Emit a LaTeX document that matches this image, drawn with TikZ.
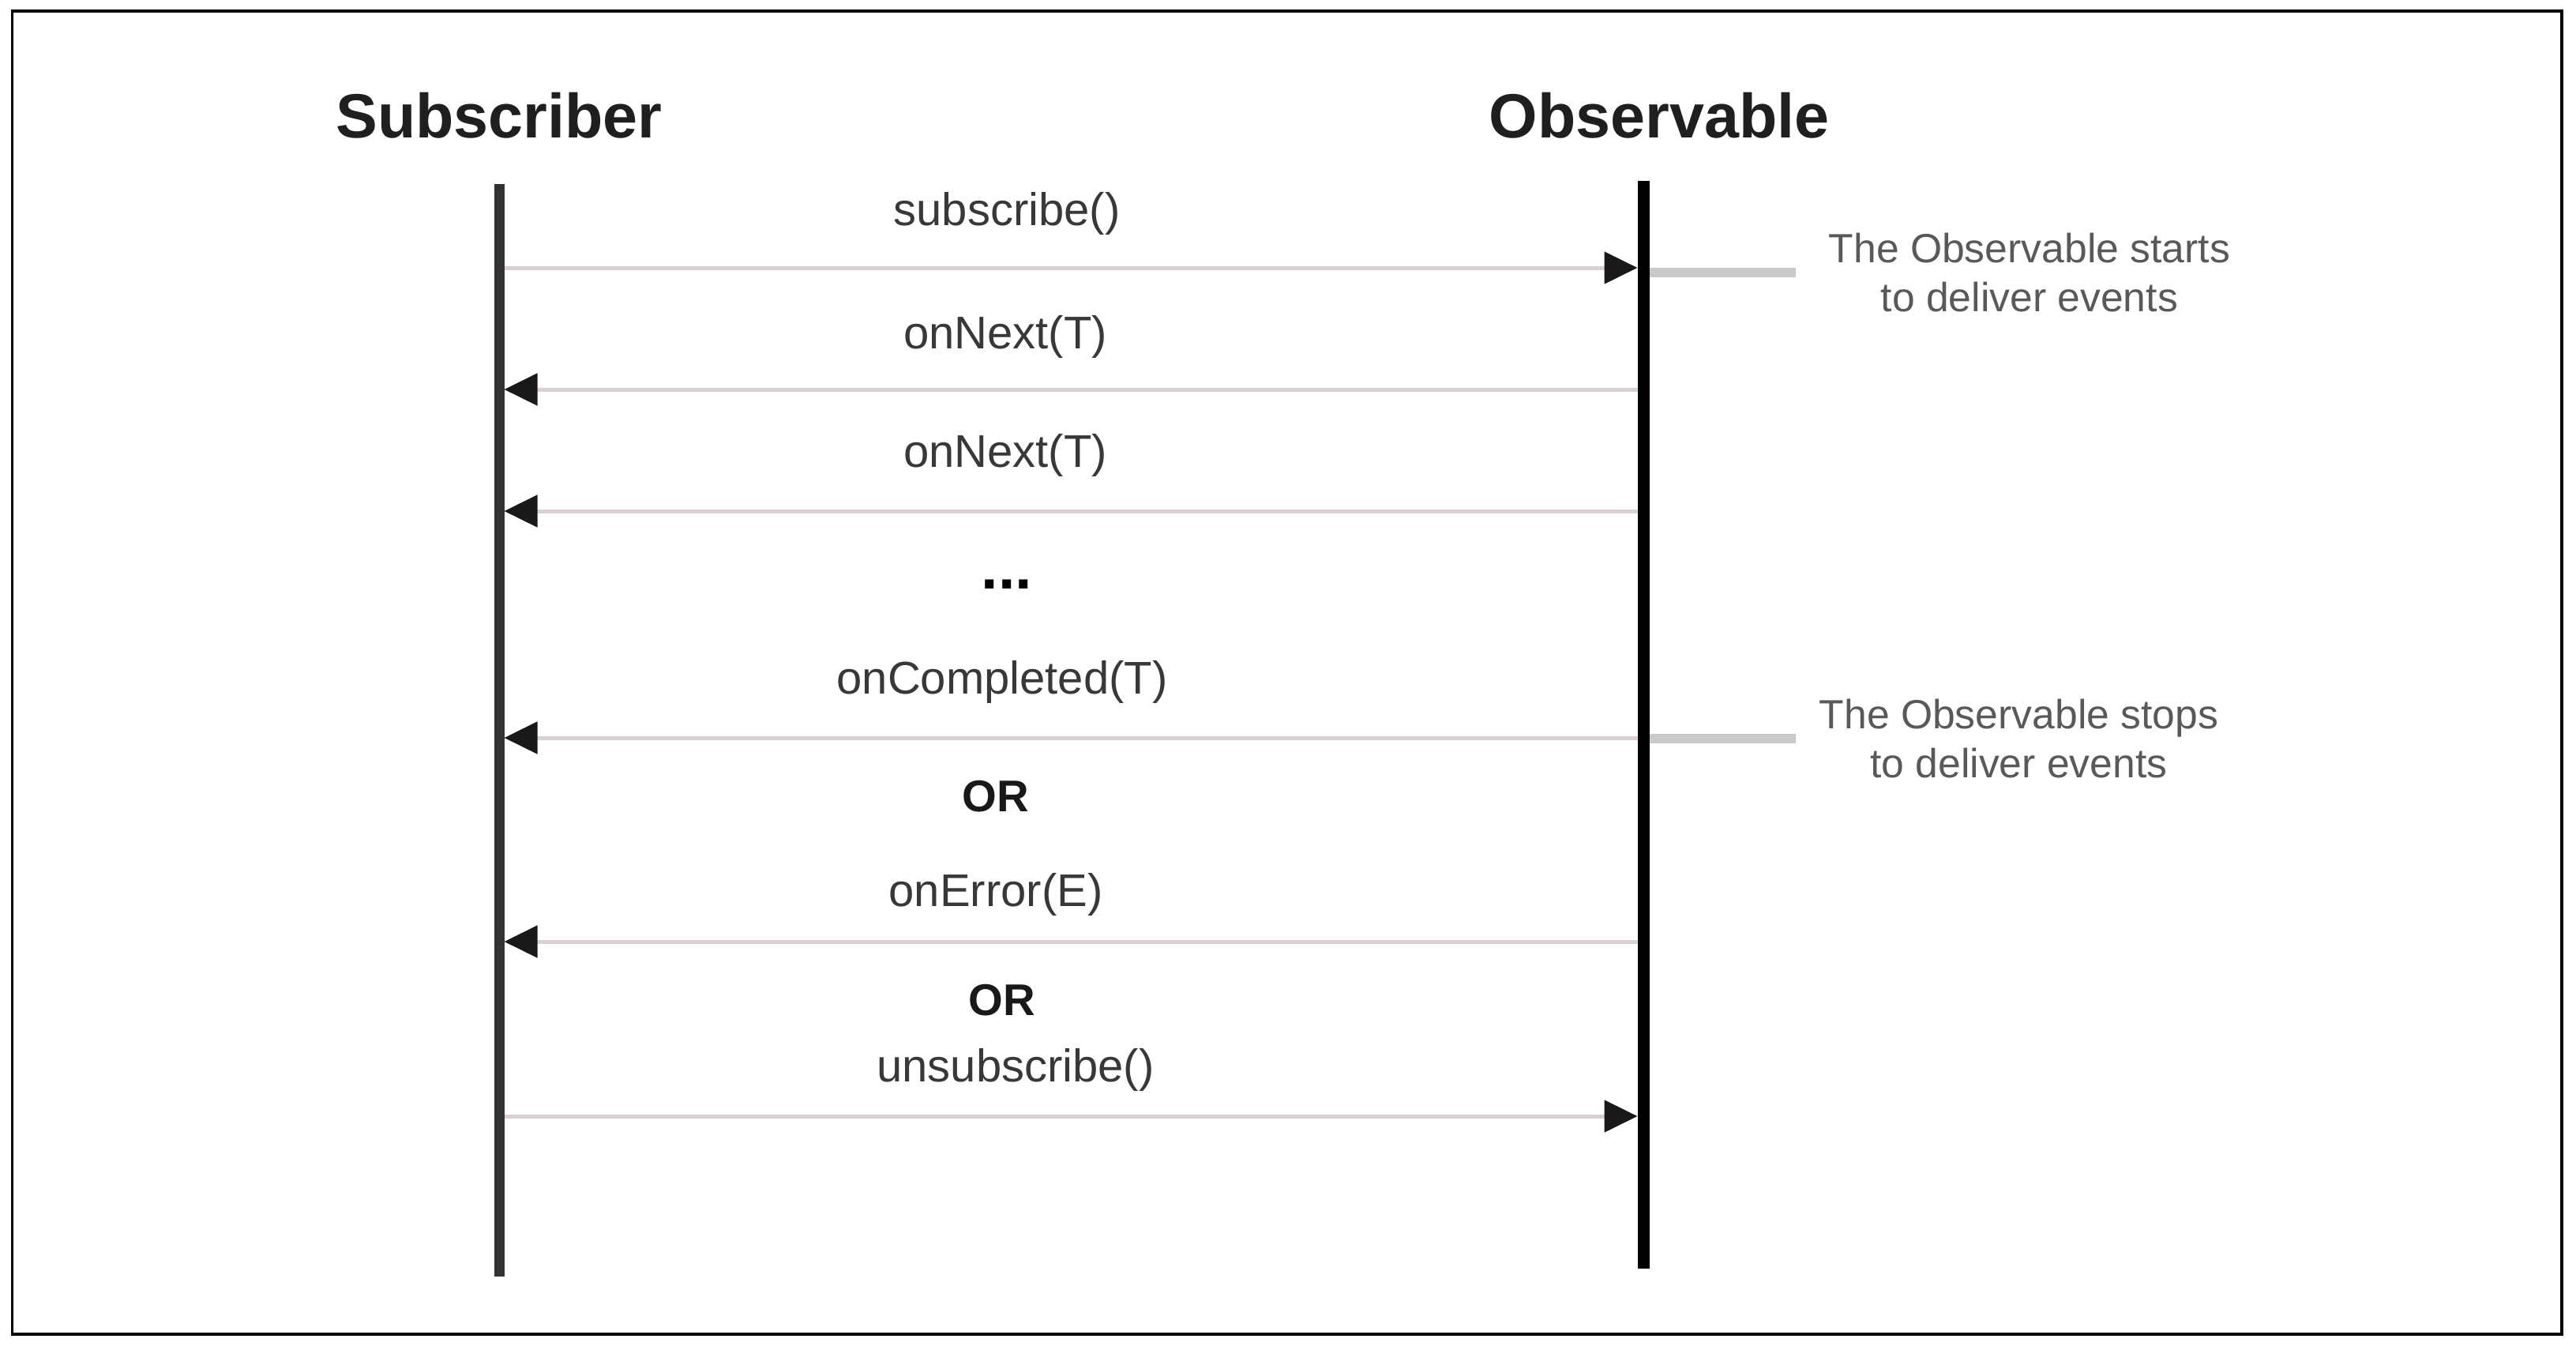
\documentclass[tikz,border=0pt]{standalone}
\usepackage{fontspec}
\setmainfont{Liberation Sans}
\usepackage{tikz}
\usetikzlibrary{positioning,arrows.meta}
\definecolor{msggray}{HTML}{D9D0D1}
\definecolor{tickgray}{HTML}{CBC8C8}
\definecolor{labelgray}{HTML}{383838}
\tikzstyle{msg} = [line width=0.05cm, draw=msggray, -{Triangle[length=0.42cm,width=0.40cm,color=black!90]}]
\tikzstyle{tick} = [line width=0.12cm, draw=tickgray]

\begin{document}
\begin{tikzpicture}[
			title/.style={
					font=\fontsize{22.5}{27}\selectfont\bfseries,
					text=black!88,
					inner sep=0pt,
				},
			lifeline/.style={
					line width=0.13cm,
					draw=black!80,
				},
			msglabel/.style={
					font=\fontsize{16.5}{20}\selectfont,
					text=labelgray,
					inner sep=0pt,
				},
			orlabel/.style={
					font=\fontsize{16}{19}\selectfont\bfseries,
					text=black!90,
					inner sep=0pt,
				},
			note/.style={
					font=\fontsize{14.7}{17.7}\selectfont,
					text=black!65,
					align=center,
					inner sep=0pt,
				}
		]

		\useasboundingbox (0,0) rectangle (32.62,-17.08);

		% Frame
		\draw[line width=0.04cm] (0.155,-0.14) rectangle (32.44,-16.885);

		% Headers
		\node[title] (sub) at (6.32,-1.46) {Subscriber};
		\node[title] (obs) at (21.01,-1.46) {Observable};

		% Side notes
		\coordinate (ta) at (20.81,-3.45);
		\coordinate (tb) at (22.74,-3.45);
		\coordinate (tc) at (20.81,-9.35);
		\coordinate (td) at (22.74,-9.35);
		\draw[tick] (ta) -- (tb);
		\draw[tick] (tc) -- (td);
		\node[note, right=0.41cm of tb] (starts) {The Observable starts\\to deliver events};
		\node[note, right=0.29cm of td] (stops) {The Observable stops\\to deliver events};

		% Lifelines
		\coordinate (subtop) at (6.32,-2.33);
		\coordinate (subbot) at (6.32,-16.16);
		\coordinate (obstop) at (20.81,-2.29);
		\coordinate (obsbot) at (20.81,-16.06);
		\draw[lifeline] (subtop) -- (subbot);
		\draw[lifeline, draw=black, line width=0.15cm] (obstop) -- (obsbot);

		% Message points on both lifelines
		\foreach \n/\y in {1/3.39, 2/4.93, 3/6.47, 4/9.34, 5/11.92, 6/14.13} {
				\coordinate (s\n) at (6.32,-\y);
				\coordinate (o\n) at (20.81,-\y);
			}

		% Messages
		\draw[msg, shorten <=0.065cm, shorten >=0.075cm] (s1) -- (o1);
		\draw[msg, shorten <=0.075cm, shorten >=0.065cm] (o2) -- (s2);
		\draw[msg, shorten <=0.075cm, shorten >=0.065cm] (o3) -- (s3);
		\draw[msg, shorten <=0.075cm, shorten >=0.065cm] (o4) -- (s4);
		\draw[msg, shorten <=0.075cm, shorten >=0.065cm] (o5) -- (s5);
		\draw[msg, shorten <=0.065cm, shorten >=0.075cm] (s6) -- (o6);

		% Message labels
		\node[msglabel] (subscribe) at (12.75,-2.70) {subscribe()};
		\node[msglabel] (next1) at (12.73,-4.26) {onNext(T)};
		\node[msglabel] (next2) at (12.73,-5.76) {onNext(T)};
		\node[font=\fontsize{22}{26}\selectfont\bfseries, inner sep=0pt] (dots) at (12.75,-7.40) {...};
		\node[msglabel] (completed) at (12.69,-8.63) {onCompleted(T)};
		\node[orlabel] (or1) at (12.61,-10.08) {OR};
		\node[msglabel] (error) at (12.61,-11.32) {onError(E)};
		\node[orlabel] (or2) at (12.69,-12.66) {OR};
		\node[msglabel] (unsubscribe) at (12.86,-13.54) {unsubscribe()};

	\end{tikzpicture}
\end{document}
